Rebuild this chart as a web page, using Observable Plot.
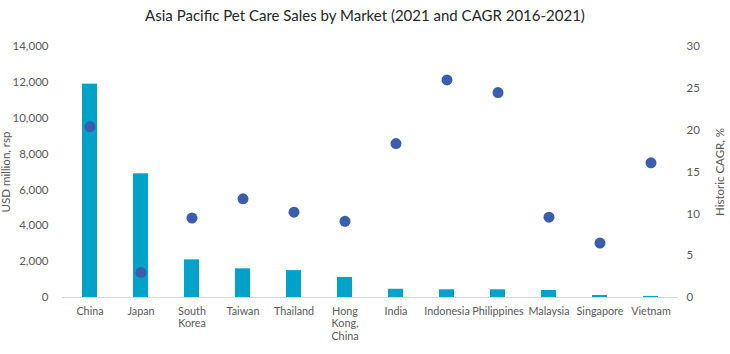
<!DOCTYPE html>
<html><head><meta charset="utf-8">
<script src="https://cdn.jsdelivr.net/npm/d3@7"></script>
<script src="https://cdn.jsdelivr.net/npm/@observablehq/plot@0.6"></script>
<style>
body{margin:0;background:#fff;font-family:Lato,sans-serif;}
#title{height:30px;line-height:30px;text-align:center;font-size:15px;color:#262626;}
</style></head><body>
<div id="title">Asia Pacific Pet Care Sales by Market (2021 and CAGR 2016-2021)</div>
<div id="chart"></div>
<script>
const markets = ["China","Japan","South Korea","Taiwan","Thailand","Hong Kong, China","India","Indonesia","Philippines","Malaysia","Singapore","Vietnam"];
const tickLabels = ["China","Japan","South\nKorea","Taiwan","Thailand","Hong\nKong,\nChina","India","Indonesia","Philippines","Malaysia","Singapore","Vietnam"];
const sales = [11900, 6900, 2100, 1600, 1500, 1120, 460, 430, 430, 390, 110, 60];
const cagr = [20.4, 3.0, 9.5, 11.8, 10.2, 9.1, 18.4, 26.0, 24.5, 9.6, 6.5, 16.1];
const leftTicks = [0, 2000, 4000, 6000, 8000, 10000, 12000, 14000];
const rightTicks = [0, 5, 10, 15, 20, 25, 30];
const leftMax = 14000, rightMax = 30;
const k = leftMax / rightMax;

const data = markets.map((m, i) => ({market: m, sales: sales[i], cagr: cagr[i]}));
const labelOf = new Map(markets.map((m, i) => [m, tickLabels[i]]));

const chart = Plot.plot({
  width: 730, height: 324,
  marginTop: 16, marginBottom: 57, marginLeft: 62, marginRight: 52,
  style: {fontFamily: "Lato, sans-serif", fontSize: "11.5px", color: "#595959", background: "#fff"},
  x: {type: "band", domain: markets, padding: 0},
  y: {domain: [0, leftMax]},
  marks: [
    Plot.barY(data, {x: "market", y: "sales", fill: "#00A2C7", insetLeft: 18, insetRight: 18}),
    Plot.ruleY([0], {stroke: "#d9d9d9", strokeWidth: 1.2}),
    Plot.dot(data, {x: "market", y: d => d.cagr * k, r: 5.5, fill: "#3A5DAE", stroke: "none"}),
    Plot.axisX({tickSize: 0, tickPadding: 8, label: null, tickFormat: d => labelOf.get(d), lineHeight: 1.18, fontSize: 10.8}),
    Plot.axisY(leftTicks, {anchor: "left", tickSize: 0, tickPadding: 14, label: null, tickFormat: d3.format(",")}),
    Plot.axisY(rightTicks.map(v => v * k), {anchor: "right", tickSize: 0, tickPadding: 8, label: null, textAnchor: "start", tickFormat: v => String(Math.round(v / k))}),
    Plot.text(["USD million, rsp"], {frameAnchor: "left", dx: -56, rotate: -90, textAnchor: "middle", fill: "#595959"}),
    Plot.text(["Historic CAGR, %"], {frameAnchor: "right", dx: 42, rotate: -90, textAnchor: "middle", fill: "#595959"})
  ]
});
document.getElementById("chart").appendChild(chart);
</script>
</body></html>
